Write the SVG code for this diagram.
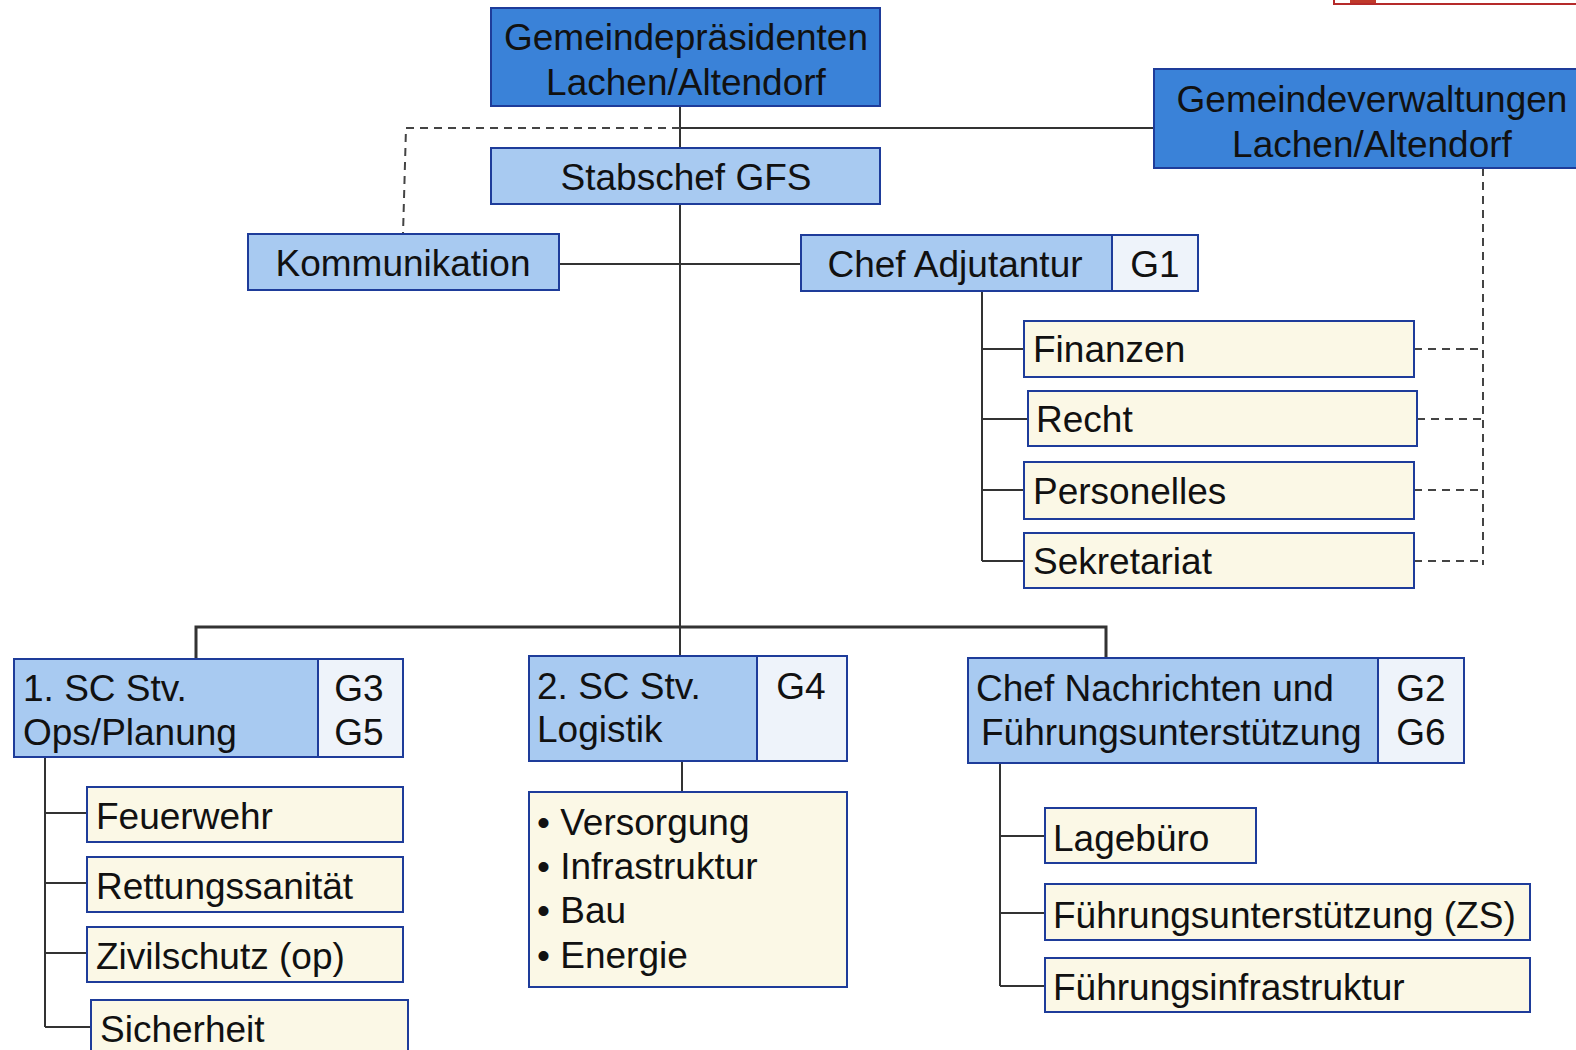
<svg xmlns="http://www.w3.org/2000/svg" width="1576" height="1050" viewBox="0 0 1576 1050">
<style>
  text { font-family: "Liberation Sans", Arial, sans-serif; font-size: 37px; fill: #111; }
  .c { text-anchor: middle; }
  .dark { fill: #3a82d8; stroke: #1e3c9a; stroke-width: 2; }
  .light { fill: #a8caf1; stroke: #1e3c9a; stroke-width: 2; }
  .gcell { fill: #eef3fa; stroke: #1e3c9a; stroke-width: 2; }
  .yellow { fill: #fbf8e6; stroke: #1e3c9a; stroke-width: 2; }
  .line { stroke: #333; stroke-width: 2; fill: none; }
  .bus { stroke: #333; stroke-width: 3; fill: none; }
  .dash { stroke: #444; stroke-width: 2; fill: none; stroke-dasharray: 8 6; }
</style>
<rect width="1576" height="1050" fill="#ffffff"/>
<g id="corner-logo">
  <rect x="1334" y="-12" width="260" height="16" fill="#ffffff" stroke="#b52a2a" stroke-width="2"/>
  <rect x="1350" y="-2" width="26" height="5" fill="#c0392b"/>
</g>
<g id="connectors">
  <path class="line" d="M680 106 V657"/>
  <path class="line" d="M680 128 H1154"/>
  <path class="dash" d="M680 128 H406 L403 234"/>
  <path class="line" d="M559 264 H801"/>
  <path class="line" d="M982 291 V561"/>
  <path class="line" d="M982 349 H1024 M982 419 H1028 M982 490 H1024 M982 561 H1024"/>
  <path class="dash" d="M1483 168 V565"/>
  <path class="dash" d="M1414 349 H1483 M1417 419 H1483 M1414 490 H1483 M1414 561 H1483"/>
  <path class="bus" d="M196 659 V627 H1106 V658"/>
  <path class="line" d="M45 757 V1027"/>
  <path class="line" d="M45 813 H87 M45 883 H87 M45 953 H87 M45 1027 H91"/>
  <path class="line" d="M682 761 V792"/>
  <path class="line" d="M1000 763 V986"/>
  <path class="line" d="M1000 836 H1045 M1000 913 H1045 M1000 986 H1045"/>
</g>
<g id="node-gemeindepraesidenten">
  <rect class="dark" x="491" y="8" width="389" height="98"/>
  <text class="c" x="686" y="50">Gemeindepräsidenten</text>
  <text class="c" x="686" y="95">Lachen/Altendorf</text>
</g>
<g id="node-gemeindeverwaltungen">
  <rect class="dark" x="1154" y="69" width="430" height="99"/>
  <text class="c" x="1372" y="112">Gemeindeverwaltungen</text>
  <text class="c" x="1372" y="157">Lachen/Altendorf</text>
</g>
<g id="node-stabschef">
  <rect class="light" x="491" y="148" width="389" height="56"/>
  <text class="c" x="686" y="190">Stabschef GFS</text>
</g>
<g id="node-kommunikation">
  <rect class="light" x="248" y="234" width="311" height="56"/>
  <text class="c" x="403" y="276">Kommunikation</text>
</g>
<g id="node-chef-adjutantur">
  <rect class="light" x="801" y="235" width="311" height="56"/>
  <rect class="gcell" x="1112" y="235" width="86" height="56"/>
  <text class="c" x="955" y="277">Chef Adjutantur</text>
  <text class="c" x="1155" y="277">G1</text>
</g>
<g id="node-finanzen">
  <rect class="yellow" x="1024" y="321" width="390" height="56"/>
  <text x="1033" y="362">Finanzen</text>
</g>
<g id="node-recht">
  <rect class="yellow" x="1028" y="391" width="389" height="55"/>
  <text x="1036" y="432">Recht</text>
</g>
<g id="node-personelles">
  <rect class="yellow" x="1024" y="462" width="390" height="57"/>
  <text x="1033" y="504">Personelles</text>
</g>
<g id="node-sekretariat">
  <rect class="yellow" x="1024" y="533" width="390" height="55"/>
  <text x="1033" y="574">Sekretariat</text>
</g>
<g id="node-sc1">
  <rect class="light" x="14" y="659" width="304" height="98"/>
  <rect class="gcell" x="318" y="659" width="85" height="98"/>
  <text x="23" y="701">1. SC Stv.</text>
  <text x="23" y="745">Ops/Planung</text>
  <text class="c" x="359" y="701">G3</text>
  <text class="c" x="359" y="745">G5</text>
</g>
<g id="node-feuerwehr">
  <rect class="yellow" x="87" y="787" width="316" height="55"/>
  <text x="96" y="829">Feuerwehr</text>
</g>
<g id="node-rettungssanitaet">
  <rect class="yellow" x="87" y="857" width="316" height="55"/>
  <text x="96" y="899">Rettungssanität</text>
</g>
<g id="node-zivilschutz">
  <rect class="yellow" x="87" y="927" width="316" height="55"/>
  <text x="96" y="969">Zivilschutz (op)</text>
</g>
<g id="node-sicherheit">
  <rect class="yellow" x="91" y="1000" width="317" height="60"/>
  <text x="100" y="1042">Sicherheit</text>
</g>
<g id="node-sc2">
  <rect class="light" x="529" y="656" width="228" height="105"/>
  <rect class="gcell" x="757" y="656" width="90" height="105"/>
  <text x="537" y="699">2. SC Stv.</text>
  <text x="537" y="742">Logistik</text>
  <text class="c" x="801" y="699">G4</text>
</g>
<g id="node-logistik-liste">
  <rect class="yellow" x="529" y="792" width="318" height="195"/>
  <text x="537" y="835">• Versorgung</text>
  <text x="537" y="879">• Infrastruktur</text>
  <text x="537" y="923">• Bau</text>
  <text x="537" y="968">• Energie</text>
</g>
<g id="node-chef-nachrichten">
  <rect class="light" x="968" y="658" width="410" height="105"/>
  <rect class="gcell" x="1378" y="658" width="86" height="105"/>
  <text x="976" y="701">Chef Nachrichten und</text>
  <text x="981" y="745">Führungsunterstützung</text>
  <text class="c" x="1421" y="701">G2</text>
  <text class="c" x="1421" y="745">G6</text>
</g>
<g id="node-lagebuero">
  <rect class="yellow" x="1045" y="808" width="211" height="55"/>
  <text x="1053" y="851">Lagebüro</text>
</g>
<g id="node-fu-zs">
  <rect class="yellow" x="1045" y="884" width="485" height="56"/>
  <text x="1053" y="928">Führungsunterstützung (ZS)</text>
</g>
<g id="node-fuehrungsinfrastruktur">
  <rect class="yellow" x="1045" y="958" width="485" height="54"/>
  <text x="1053" y="1000">Führungsinfrastruktur</text>
</g>
</svg>
